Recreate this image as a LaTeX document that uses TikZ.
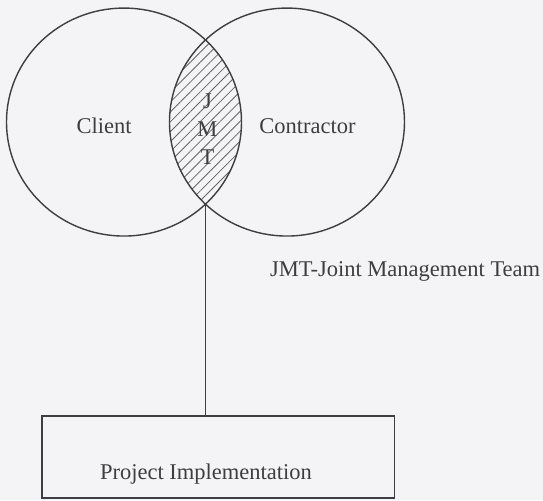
\documentclass[tikz,border=0pt]{standalone}
\usepackage{fontspec}
\setmainfont{Liberation Serif}
\usepackage{xcolor}
\usetikzlibrary{positioning,patterns.meta}
\definecolor{inkgray}{RGB}{62,62,66}
\definecolor{hatchgray}{RGB}{100,100,106}
\definecolor{papergray}{RGB}{244,244,247}

\begin{document}
\begin{tikzpicture}[line width=0.7pt, color=inkgray, every node/.style={font=\fontsize{11.25}{14}\selectfont}]
  \fill[papergray] (0,0) rectangle (9.542,8.787);
  \useasboundingbox (0,0) rectangle (9.542,8.787);
  \coordinate (Cc) at (2.179,6.642);
  \coordinate (Kc) at (5.043,6.642);
  \coordinate (lensbot) at (3.611,5.199);
  \begin{scope}
    \clip (Cc) ellipse [x radius=2.065, y radius=2.003];
    \fill[pattern={Lines[angle=45, distance=3.5pt, line width=0.4pt]}, pattern color=hatchgray] (Kc) ellipse [x radius=2.065, y radius=2.003];
  \end{scope}
  \draw (Cc) ellipse [x radius=2.065, y radius=2.003];
  \draw (Kc) ellipse [x radius=2.065, y radius=2.003];
  \node[anchor=base] (client) at (1.828,6.449) {Client};
  \node[anchor=base] (contractor) at (5.404,6.449) {Contractor};
  \node[align=center, inner sep=1pt] (jmt) at (3.646,6.515) {J\\M\\T};
  \node[anchor=base east] (jmtlabel) at (9.621,3.936) {JMT-Joint Management Team};
  \node[draw, minimum width=6.195cm, minimum height=1.441cm, inner sep=0pt] (implbox) at (3.835,0.756) {};
  \node[anchor=base] (impltext) at (3.620,0.364) {Project Implementation};
  \draw (lensbot) -- (lensbot |- implbox.north);
\end{tikzpicture}
\end{document}
